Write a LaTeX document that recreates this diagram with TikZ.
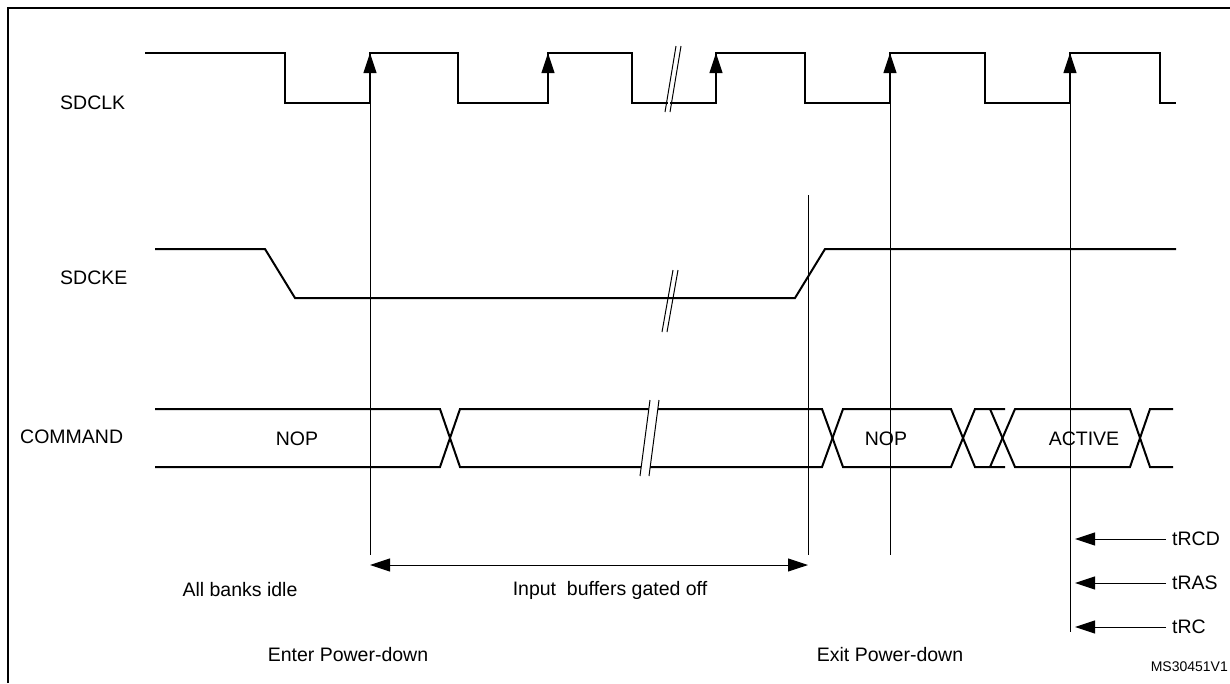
\documentclass[tikz,border=0pt]{standalone}
\usepackage{fontspec}
\setmainfont{Liberation Sans}
\usetikzlibrary{arrows.meta}
\begin{document}
\begin{tikzpicture}[x=1pt,y=-1pt,
  sig/.style={line width=2pt},
  thin/.style={line width=1pt},
  lbl/.style={font=\fontsize{19.5}{22}\selectfont, inner sep=0pt},
  tip/.style={-{Triangle[length=20pt,width=13pt]}, line width=1pt}]
\useasboundingbox (0,0) rectangle (1230,683);
\fill[white] (0,0) rectangle (1230,683);
\draw[line width=2pt] (8,683) -- (8,8) -- (1230,8);
% SDCLK
\draw[sig] (145,53) -- (285,53) -- (285,103) -- (370,103) -- (370,53) -- (458,53) -- (458,103) -- (548,103) -- (548,53) -- (632,53) -- (632,103) -- (668,103);
\draw[sig] (670,103) -- (716,103) -- (716,53) -- (805,53) -- (805,103) -- (890,103) -- (890,53) -- (985,53) -- (985,103) -- (1070,103) -- (1070,53) -- (1160,53) -- (1160,103) -- (1176,103);
\draw[thin] (665,112) -- (676,46); \draw[thin] (670,112) -- (681,46);
\foreach \x/\n in {370/a,548/b,716/c,890/d,1070/e}{
  \coordinate (s\n) at (\x,85); \coordinate (t\n) at (\x,53);
  \draw[tip] (s\n) -- (t\n);}
% vertical markers
\coordinate (v1a) at (370,103); \coordinate (v1b) at (370,555);
\coordinate (v2a) at (890,103); \coordinate (v2b) at (890,555);
\coordinate (v3a) at (1070,103); \coordinate (v3b) at (1070,632);
\coordinate (v4a) at (808,195); \coordinate (v4b) at (808,555);
\draw[thin] (v1a)--(v1b); \draw[thin] (v2a)--(v2b); \draw[thin] (v3a)--(v3b); \draw[thin] (v4a)--(v4b);
% SDCKE
\draw[sig] (155,249) -- (265,249) -- (295,298) -- (795,298) -- (825,249) -- (1176,249);
\draw[thin] (662,332) -- (673,270); \draw[thin] (667,332) -- (678,270);
% COMMAND
\draw[sig] (155,409) -- (440,409) -- (460,467) -- (822,467) -- (843,409) -- (951,409) -- (975,467) -- (1005,467);
\draw[sig] (155,467) -- (440,467) -- (460,409) -- (822,409) -- (843,467) -- (951,467) -- (975,409) -- (1005,409);
\draw[sig] (990,409) -- (1015,467) -- (1130,467) -- (1150,409) -- (1173,409);
\draw[sig] (990,467) -- (1015,409) -- (1130,409) -- (1150,467) -- (1173,467);
\fill[white] (650,400) -- (659,400) -- (649,476) -- (640,476) -- cycle;
\draw[thin] (650,400) -- (640,476); \draw[thin] (659,400) -- (649,476);
% labels
\node[lbl,anchor=west] (l1) at (60,103) {SDCLK};
\node[lbl,anchor=west] (l2) at (60,278) {SDCKE};
\node[lbl,anchor=west] (l3) at (20,437) {COMMAND};
\node[lbl] (n1) at (297,439) {NOP};
\node[lbl] (n2) at (886,439) {NOP};
\node[lbl] (n3) at (1084,439) {ACTIVE};
\draw[thin,{Triangle[length=20pt,width=13pt]}-{Triangle[length=20pt,width=13pt]}] (v1b |- 0,565) -- (v4b |- 0,565);
\node[lbl] (i1) at (610,590) {Input\ \ buffers gated off};
\node[lbl] (i2) at (240,590) {All banks idle};
\node[lbl] (i3) at (348,655) {Enter Power-down};
\node[lbl] (i4) at (890,655) {Exit Power-down};
\node[lbl,anchor=west] (r1) at (1172,539) {tRCD};
\node[lbl,anchor=west] (r2) at (1172,583) {tRAS};
\node[lbl,anchor=west] (r3) at (1172,627) {tRC};
\foreach \r in {r1,r2,r3}{\draw[tip] ([xshift=-6pt]\r.west) -- (\r.west -| 1075,0);}
\node[lbl,font=\fontsize{14}{16}\selectfont,anchor=east] (ms) at (1228,667) {MS30451V1};
\end{tikzpicture}
\end{document}
